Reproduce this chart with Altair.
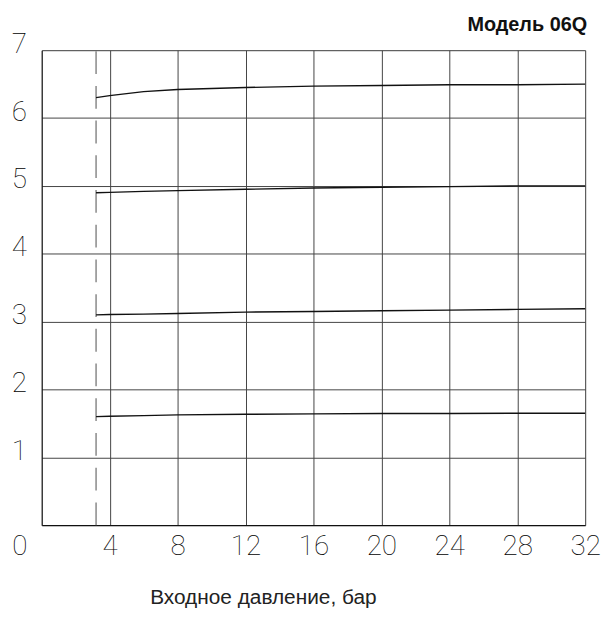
import altair as alt
import pandas as pd

pressure = [3.2, 4, 6, 8, 12, 16, 20, 24, 28, 32]
curve_a = [6.30, 6.33, 6.39, 6.42, 6.45, 6.47, 6.48, 6.49, 6.49, 6.50]
curve_b = [4.90, 4.905, 4.92, 4.93, 4.95, 4.97, 4.98, 4.99, 5.00, 5.00]
curve_c = [3.10, 3.105, 3.11, 3.12, 3.14, 3.15, 3.16, 3.17, 3.18, 3.19]
curve_d = [1.60, 1.605, 1.615, 1.625, 1.635, 1.64, 1.645, 1.645, 1.65, 1.65]
min_pressure = 3.2
x_ticks = [4, 8, 12, 16, 20, 24, 28, 32]
y_ticks = [1, 2, 3, 4, 5, 6, 7]
title_text = "Модель 06Q"
x_title = "Входное давление, бар"

rows = []
for name, vals in [("a", curve_a), ("b", curve_b), ("c", curve_c), ("d", curve_d)]:
    for xv, yv in zip(pressure, vals):
        rows.append({"curve": name, "p": xv, "q": yv})
df = pd.DataFrame(rows)

W, H = 548, 479
tick_font = "Roboto"
tick_weight = 100
tick_size = 28
tick_color = "#000"

xs = alt.Scale(domain=[0, 32], nice=False, zero=False)
ys = alt.Scale(domain=[0, 7], nice=False, zero=False)

x_axis = alt.Axis(values=x_ticks, format="d", grid=True, gridColor="#444", gridWidth=1, gridOpacity=1,
                  ticks=False, domain=True, domainColor="#111", domainWidth=1.2,
                  labelFont=tick_font, labelFontSize=tick_size, labelColor=tick_color,
                  labelFontWeight=tick_weight, labelPadding=22, labelBaseline="middle",
                  labelFlush=False, labelOverlap=False,
                  title=x_title, titleFont="Liberation Sans", titleFontSize=21,
                  titleFontWeight="normal", titleColor="#222",
                  titleX=223, titleY=73, titleAlign="center", titleBaseline="middle")
y_axis = alt.Axis(values=y_ticks, format="d", grid=True, gridColor="#444", gridWidth=1, gridOpacity=1,
                  ticks=False, domain=True, domainColor="#111", domainWidth=1.2,
                  labelFont=tick_font, labelFontSize=tick_size, labelColor=tick_color,
                  labelFontWeight=tick_weight,
                  labelPadding=23, labelAlign="center", labelBaseline="middle",
                  labelOffset=-6, labelFlush=False, labelOverlap=False, title=None)

lines = alt.Chart(df).mark_line(color="#111", strokeWidth=1.4).encode(
    x=alt.X("p:Q", scale=xs, axis=x_axis),
    y=alt.Y("q:Q", scale=ys, axis=y_axis),
    detail="curve:N",
)

vline_df = pd.DataFrame({"p": [min_pressure], "y0": [0], "y1": [7]})
vline = alt.Chart(vline_df).mark_rule(color="#777", strokeWidth=1.3, strokeDash=[23, 12]).encode(
    x=alt.X("p:Q", scale=xs),
    y=alt.Y("y0:Q", scale=ys),
    y2="y1:Q",
)

zero_df = pd.DataFrame({"p": [0], "q": [0], "t": ["0"]})
zero_lbl = alt.Chart(zero_df).mark_text(font=tick_font, fontSize=tick_size, fontWeight=tick_weight,
                                        color=tick_color, align="center", baseline="middle",
                                        dx=-22, dy=22).encode(
    x=alt.X("p:Q", scale=xs),
    y=alt.Y("q:Q", scale=ys),
    text="t:N",
)

title_df = pd.DataFrame({"p": [32], "q": [7], "t": [title_text]})
title_lbl = alt.Chart(title_df).mark_text(font="Liberation Sans", fontSize=20, fontWeight="bold",
                                          color="#111", align="right", baseline="alphabetic",
                                          dx=2, dy=-19).encode(
    x=alt.X("p:Q", scale=xs),
    y=alt.Y("q:Q", scale=ys),
    text="t:N",
)

chart = alt.layer(vline, lines, zero_lbl, title_lbl).properties(
    width=W, height=H,
    autosize=alt.AutoSizeParams(type="none"),
    padding={"left": 34, "top": 40, "right": 20, "bottom": 85},
).configure_view(stroke=None).configure(background="white")

chart.save("out.html", embed_options={"renderer": "svg", "actions": False})
